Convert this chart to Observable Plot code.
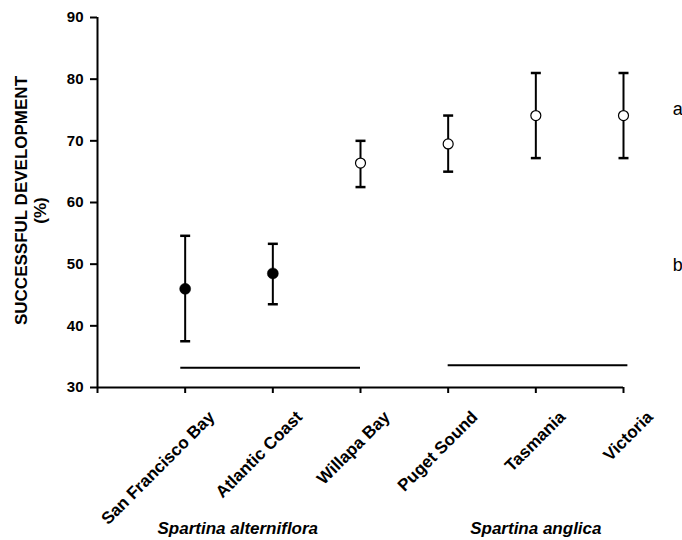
<!DOCTYPE html>
<html>
<head>
<meta charset="utf-8">
<script src="https://cdn.jsdelivr.net/npm/d3@7"></script>
<script src="https://cdn.jsdelivr.net/npm/@observablehq/plot@0.6"></script>
<style>
  html, body { margin: 0; padding: 0; background: #fff; }
  #chart svg { display: block; }
</style>
</head>
<body>
<div id="chart"></div>
<script>
// ---- data ----
const categories = ["San Francisco Bay", "Atlantic Coast", "Willapa Bay", "Puget Sound", "Tasmania", "Victoria"];
const means = [46.0, 48.5, 66.4, 69.5, 74.1, 74.1];
const upper = [54.6, 53.3, 70.0, 74.1, 81.0, 81.0];
const lower = [37.5, 43.5, 62.5, 65.0, 67.2, 67.2];
const sigGroup = ["b", "b", "a", "a", "a", "a"];

const yTicks = [30, 40, 50, 60, 70, 80, 90];

const speciesNames = ["Spartina alterniflora", "Spartina anglica"];
const speciesLabelX = [1.6, 5.0];

const groupLineStart = [0.95, 4.0];
const groupLineEnd = [3.0, 6.05];
const groupLineLevel = [33.2, 33.6];

const letterLabels = ["a", "b"];
const letterX = [6.62, 6.62];
const letterY = [75.2, 49.8];

// ---- tables built from the arrays ----
const data = categories.map((c, i) => ({
  name: c, pos: i + 1, mean: means[i], hi: upper[i], lo: lower[i], group: sigGroup[i]
}));
const species = speciesNames.map((s, i) => ({name: s, x: speciesLabelX[i]}));
const groupLines = groupLineStart.map((s, i) => ({x1: s, x2: groupLineEnd[i], y: groupLineLevel[i]}));
const letters = letterLabels.map((l, i) => ({label: l, x: letterX[i], y: letterY[i]}));

const capSymbol = {
  draw(context) {
    context.moveTo(-5, 0);
    context.lineTo(5, 0);
  }
};

const font = "'Liberation Sans', Arial, Helvetica, sans-serif";

const chart = Plot.plot({
  width: 682,
  height: 540,
  marginLeft: 97,
  marginRight: 59,
  marginTop: 17,
  marginBottom: 153,
  style: {fontFamily: font, color: "#000", background: "#fff", overflow: "visible"},
  x: {domain: [0, 6]},
  y: {domain: [30, 90]},
  marks: [
    Plot.axisY({ticks: yTicks, tickSize: 7, tickPadding: 7, strokeWidth: 2, fontSize: 15, fontWeight: "bold", label: null}),
    Plot.axisX({ticks: d3.range(0, 7), tickSize: 6, strokeWidth: 2, tickFormat: () => "", label: null}),
    Plot.ruleX([0], {strokeWidth: 2}),
    Plot.ruleY([30], {strokeWidth: 2}),
    // group lines
    Plot.ruleY(groupLines, {y: "y", x1: "x1", x2: "x2", strokeWidth: 2}),
    // error bars
    Plot.ruleX(data, {x: "pos", y1: "lo", y2: "hi", strokeWidth: 2}),
    Plot.dot(data, {x: "pos", y: "hi", symbol: capSymbol, r: 5, stroke: "black", strokeWidth: 2.5, fill: "none"}),
    Plot.dot(data, {x: "pos", y: "lo", symbol: capSymbol, r: 5, stroke: "black", strokeWidth: 2.5, fill: "none"}),
    // markers
    Plot.dot(data.filter(d => d.group === "b"), {x: "pos", y: "mean", r: 5.5, fill: "black", stroke: "black", strokeWidth: 0.5}),
    Plot.dot(data.filter(d => d.group === "a"), {x: "pos", y: "mean", r: 5, fill: "white", stroke: "black", strokeWidth: 1.2}),
    // category labels
    Plot.text(data, {x: "pos", y: () => 30, text: "name", rotate: -45, textAnchor: "end", lineAnchor: "top",
      dx: 22, dy: 22, fontSize: 17, fontWeight: "bold", fill: "black"}),
    // species labels
    Plot.text(species, {x: "x", y: () => 30, text: "name", dy: 141, fontSize: 17, fontWeight: "bold", fontStyle: "italic", fill: "black"}),
    // significance letters
    Plot.text(letters, {x: "x", y: "y", text: "label", fontSize: 18, fill: "black"}),
    // y axis title
    Plot.text(["SUCCESSFUL DEVELOPMENT"], {frameAnchor: "left", textAnchor: "middle", rotate: -90, dx: -75.5, dy: -2, fontSize: 17, fontWeight: "bold", fill: "black"}),
    Plot.text(["(%)"], {frameAnchor: "left", textAnchor: "middle", rotate: -90, dx: -57, dy: 8, fontSize: 17, fontWeight: "bold", fill: "black"})
  ]
});

document.getElementById("chart").appendChild(chart);
</script>
</body>
</html>
